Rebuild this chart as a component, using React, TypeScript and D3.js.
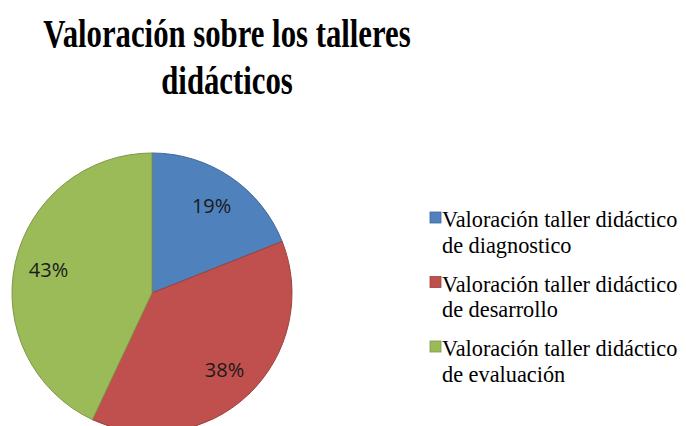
import React from "react";
import * as d3 from "d3";

const titleLines = ["Valoración sobre los talleres", "didácticos"];
const categories = [
  ["Valoración taller didáctico", "de diagnostico"],
  ["Valoración taller didáctico", "de desarrollo"],
  ["Valoración taller didáctico", "de evaluación"],
];
const values = [19, 38, 43];
const colors = ["#4F81BD", "#C0504D", "#9BBB59"];

const W = 686,
  H = 426;
const serif = '"Liberation Serif", "Times New Roman", serif';
const sans = '"Open Sans", "Noto Sans", sans-serif';

// pie geometry
const cx = 152,
  cy = 293,
  r = 140;
const pie = d3.pie<number>().sort(null).value((d) => d);
const arc = d3.arc<d3.PieArcDatum<number>>().innerRadius(0).outerRadius(r);
const labelArc = d3
  .arc<d3.PieArcDatum<number>>()
  .innerRadius(106 * 2 - r)
  .outerRadius(r);

export default function App() {
  const arcs = pie(values);
  const total = d3.sum(values);
  const edge = (c: string) => d3.color(c)!.darker(0.6).toString();

  return (
    <svg
      width={W}
      height={H}
      style={{ position: "absolute", left: 0, top: 0, background: "#fff" }}
    >
      {/* title, squeezed like the original */}
      <g transform="translate(227,0) scale(0.75,1)">
        {titleLines.map((t, i) => (
          <text
            key={t}
            x={0}
            y={47 + i * 47}
            textAnchor="middle"
            fontWeight="bold"
            fontSize={41}
            fill="#000"
            style={{ fontFamily: serif }}
          >
            {t}
          </text>
        ))}
      </g>

      <g transform={`translate(${cx},${cy})`}>
        {arcs.map((d, i) => (
          <path
            key={i}
            d={arc(d) || ""}
            fill={colors[i]}
            stroke={edge(colors[i])}
            strokeWidth={1}
          />
        ))}
        {arcs.map((d, i) => (
          <text
            key={"l" + i}
            transform={`translate(${labelArc.centroid(d)})`}
            dy="0.36em"
            textAnchor="middle"
            fontSize={20}
            fill="#1a1a1a"
            style={{ fontFamily: sans }}
          >
            {Math.round((d.value / total) * 100) + "%"}
          </text>
        ))}
      </g>

      {categories.map((lines, i) => (
        <g key={i} transform={`translate(430,${212 + i * 64.5})`}>
          <rect
            width={11}
            height={11}
            fill={colors[i]}
            stroke={edge(colors[i])}
            strokeWidth={0.8}
          />
          <g transform="translate(12,15) scale(0.93,1)">
            {lines.map((t, j) => (
              <text
                key={j}
                x={0}
                y={j * 26}
                fontSize={24}
                fill="#000"
                style={{ fontFamily: serif }}
              >
                {t}
              </text>
            ))}
          </g>
        </g>
      ))}
    </svg>
  );
}
